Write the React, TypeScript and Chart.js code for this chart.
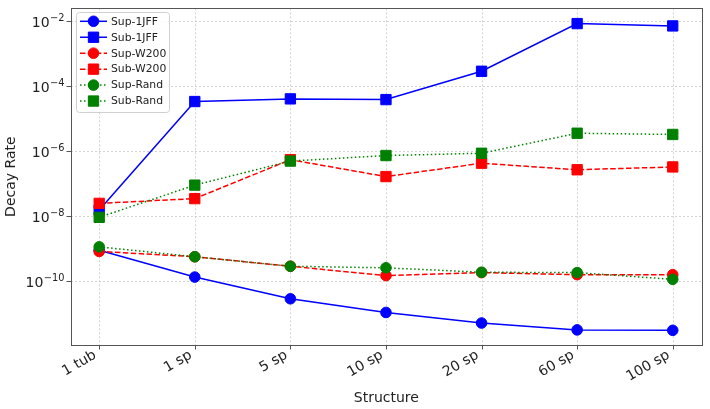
import React, { useEffect, useRef } from "react";
import { Chart, registerables } from "chart.js";

Chart.register(...registerables);

const categories = ["1 tub", "1 sp", "5 sp", "10 sp", "20 sp", "60 sp", "100 sp"];
const sup1JFF = [9e-10, 1.35e-10, 2.9e-11, 1.1e-11, 5.2e-12, 3.2e-12, 3.1e-12];
const sub1JFF = [1.55e-8, 3.4e-5, 4.1e-5, 3.9e-5, 2.9e-4, 8.5e-3, 7.2e-3];
const supW200 = [8.3e-10, 5.7e-10, 2.9e-10, 1.5e-10, 1.85e-10, 1.6e-10, 1.6e-10];
const subW200 = [2.5e-8, 3.5e-8, 5.5e-7, 1.67e-7, 4.3e-7, 2.7e-7, 3.3e-7];
const supRand = [1.15e-9, 5.7e-10, 2.9e-10, 2.6e-10, 1.9e-10, 1.85e-10, 1.15e-10];
const subRand = [9.3e-9, 9.1e-8, 5e-7, 7.4e-7, 8.7e-7, 3.6e-6, 3.3e-6];
const yTickExponents = [-10, -8, -6, -4, -2];

const seriesNames = ["Sup-1JFF", "Sub-1JFF", "Sup-W200", "Sub-W200", "Sup-Rand", "Sub-Rand"];
const seriesValues = [sup1JFF, sub1JFF, supW200, subW200, supRand, subRand];
const seriesColors = ["#0000ff", "#0000ff", "#ff0000", "#ff0000", "#008000", "#008000"];
const seriesDash = [[], [], [5.5, 2.4], [5.5, 2.4], [1.5, 2.5], [1.5, 2.5]];
const seriesMarker = ["circle", "rect", "circle", "rect", "circle", "rect"];

const FONT = "'DejaVu Sans', sans-serif";
const TEXT_COLOR = "#222222";

const CIRCLE_R = 5.3;
const RECT_R = 7.3;

function drawMarker(ctx: CanvasRenderingContext2D, kind: string, x: number, y: number, color: string) {
  ctx.save();
  ctx.setLineDash([]);
  ctx.fillStyle = color;
  ctx.strokeStyle = color;
  ctx.lineWidth = 1;
  ctx.beginPath();
  if (kind === "circle") {
    ctx.arc(x, y, CIRCLE_R, 0, Math.PI * 2);
  } else {
    const s = Math.SQRT1_2 * RECT_R;
    ctx.rect(x - s, y - s, 2 * s, 2 * s);
  }
  ctx.fill();
  ctx.stroke();
  ctx.restore();
}

const framePlugin = {
  id: "framePlugin",
  beforeDatasetsDraw(chart: any) {
    const { ctx, chartArea } = chart;
    const { left, right, top, bottom } = chartArea;
    const xs = chart.scales.x;
    const ys = chart.scales.y;
    ctx.save();
    ctx.strokeStyle = "#c8c8c8";
    ctx.lineWidth = 0.8;
    ctx.setLineDash([2, 2]);
    for (let i = 0; i < categories.length; i++) {
      const px = Math.round(xs.getPixelForValue(i)) + 0.5;
      ctx.beginPath();
      ctx.moveTo(px, top);
      ctx.lineTo(px, bottom);
      ctx.stroke();
    }
    for (const e of yTickExponents) {
      const py = Math.round(ys.getPixelForValue(Math.pow(10, e))) + 0.5;
      ctx.beginPath();
      ctx.moveTo(left, py);
      ctx.lineTo(right, py);
      ctx.stroke();
    }
    ctx.restore();
  },
  afterDatasetsDraw(chart: any) {
    const { ctx, chartArea } = chart;
    const { left, right, top, bottom } = chartArea;
    const xs = chart.scales.x;
    const ys = chart.scales.y;
    ctx.save();
    ctx.setLineDash([]);
    ctx.strokeStyle = "#555555";
    ctx.lineWidth = 1;
    ctx.strokeRect(Math.round(left) + 0.5, Math.round(top) + 0.5, Math.round(right - left), Math.round(bottom - top));
    for (let i = 0; i < categories.length; i++) {
      const px = Math.round(xs.getPixelForValue(i)) + 0.5;
      ctx.beginPath();
      ctx.moveTo(px, bottom);
      ctx.lineTo(px, bottom + 4.5);
      ctx.stroke();
    }
    // y tick marks and mathtext-like labels 10^{e}
    ctx.textAlign = "left";
    ctx.textBaseline = "alphabetic";
    ctx.fillStyle = TEXT_COLOR;
    for (const e of yTickExponents) {
      const yv = ys.getPixelForValue(Math.pow(10, e));
      const py = Math.round(yv) + 0.5;
      ctx.beginPath();
      ctx.moveTo(left, py);
      ctx.lineTo(left - 4.5, py);
      ctx.stroke();
      const base = "10";
      const sup = "\u2212" + String(Math.abs(e));
      ctx.font = `14px ${FONT}`;
      const wBase = ctx.measureText(base).width;
      ctx.font = `9.8px ${FONT}`;
      const wSup = ctx.measureText(sup).width;
      const xEnd = left - 7;
      const x0 = xEnd - wSup - wBase;
      ctx.font = `14px ${FONT}`;
      ctx.fillText(base, x0, yv + 5.5);
      ctx.font = `9.8px ${FONT}`;
      ctx.fillText(sup, x0 + wBase + 0.5, yv - 0.8);
    }
    ctx.restore();
  },
  afterDraw(chart: any) {
    const { ctx } = chart;
    const bx = 76.5, by = 12.5, bw = 93, bh = 100, r = 3;
    ctx.save();
    ctx.setLineDash([]);
    ctx.beginPath();
    ctx.moveTo(bx + r, by);
    ctx.lineTo(bx + bw - r, by);
    ctx.quadraticCurveTo(bx + bw, by, bx + bw, by + r);
    ctx.lineTo(bx + bw, by + bh - r);
    ctx.quadraticCurveTo(bx + bw, by + bh, bx + bw - r, by + bh);
    ctx.lineTo(bx + r, by + bh);
    ctx.quadraticCurveTo(bx, by + bh, bx, by + bh - r);
    ctx.lineTo(bx, by + r);
    ctx.quadraticCurveTo(bx, by, bx + r, by);
    ctx.closePath();
    ctx.fillStyle = "rgba(255,255,255,0.85)";
    ctx.fill();
    ctx.strokeStyle = "#d0d0d0";
    ctx.lineWidth = 1;
    ctx.stroke();
    ctx.font = `10.8px ${FONT}`;
    ctx.textBaseline = "middle";
    ctx.textAlign = "left";
    for (let i = 0; i < seriesNames.length; i++) {
      const y = 21.3 + i * 15.95;
      ctx.save();
      ctx.strokeStyle = seriesColors[i];
      ctx.lineWidth = 1.5;
      ctx.setLineDash(seriesDash[i]);
      ctx.beginPath();
      ctx.moveTo(80, y);
      ctx.lineTo(107, y);
      ctx.stroke();
      ctx.restore();
      drawMarker(ctx, seriesMarker[i], 93.5, y, seriesColors[i]);
      ctx.fillStyle = TEXT_COLOR;
      ctx.fillText(seriesNames[i], 111, y + 0.5);
    }
    ctx.restore();
  },
};

export default function App() {
  const canvasRef = useRef<HTMLCanvasElement | null>(null);

  useEffect(() => {
    if (!canvasRef.current) return;
    Chart.defaults.font.family = FONT;
    const datasets = seriesNames.map((name, i) => ({
      label: name,
      data: seriesValues[i].map((v, j) => ({ x: j, y: v })),
      borderColor: seriesColors[i],
      backgroundColor: seriesColors[i],
      pointBackgroundColor: seriesColors[i],
      pointBorderColor: seriesColors[i],
      borderWidth: 1.5,
      borderDash: seriesDash[i],
      pointStyle: seriesMarker[i],
      pointRadius: seriesMarker[i] === "circle" ? CIRCLE_R : RECT_R,
      pointBorderWidth: 1,
      tension: 0,
      fill: false,
      order: seriesNames.length - 1 - i,
    }));

    const chart = new Chart(canvasRef.current, {
      type: "line",
      data: { datasets },
      options: {
        animation: false,
        responsive: true,
        maintainAspectRatio: false,
        layout: { padding: { top: 7, right: 7, left: 0, bottom: 0 } },
        plugins: { legend: { display: false }, tooltip: { enabled: false } },
        scales: {
          x: {
            type: "linear",
            min: -0.295,
            max: 6.303,
            grid: { display: false, drawTicks: false },
            border: { display: false },
            afterBuildTicks: (scale: any) => {
              scale.ticks = categories.map((_, i) => ({ value: i }));
            },
            afterFit: (scale: any) => {
              scale.height = 64;
              scale.paddingLeft = 0;
              scale.paddingRight = 0;
            },
            ticks: {
              autoSkip: false,
              minRotation: 30,
              maxRotation: 30,
              padding: 2,
              labelOffset: -4,
              color: TEXT_COLOR,
              font: { size: 14, family: FONT },
              callback: (v: any) => categories[Math.round(Number(v))] ?? "",
            },
            title: {
              display: true,
              text: "Structure",
              color: TEXT_COLOR,
              font: { size: 14, family: FONT, lineHeight: 1.2 },
              padding: { top: 0, bottom: 2.6 },
            },
          },
          y: {
            type: "logarithmic",
            min: Math.pow(10, -11.96),
            max: Math.pow(10, -1.6),
            grid: { display: false, drawTicks: false },
            border: { display: false },
            afterBuildTicks: (scale: any) => {
              scale.ticks = yTickExponents.map((e) => ({ value: Math.pow(10, e) }));
            },
            afterFit: (scale: any) => {
              scale.width = 71;
              scale.paddingTop = 0;
              scale.paddingBottom = 0;
            },
            ticks: { display: false },
            title: {
              display: true,
              text: "Decay Rate",
              color: TEXT_COLOR,
              font: { size: 14, family: FONT, lineHeight: 1.2 },
              padding: { top: 3.3, bottom: 0 },
            },
          },
        },
      },
      plugins: [framePlugin],
    } as any);
    return () => chart.destroy();
  }, []);

  return (
    <div style={{ position: "fixed", left: 0, top: 0, width: 710, height: 409, background: "#fff" }}>
      <canvas ref={canvasRef} />
    </div>
  );
}
